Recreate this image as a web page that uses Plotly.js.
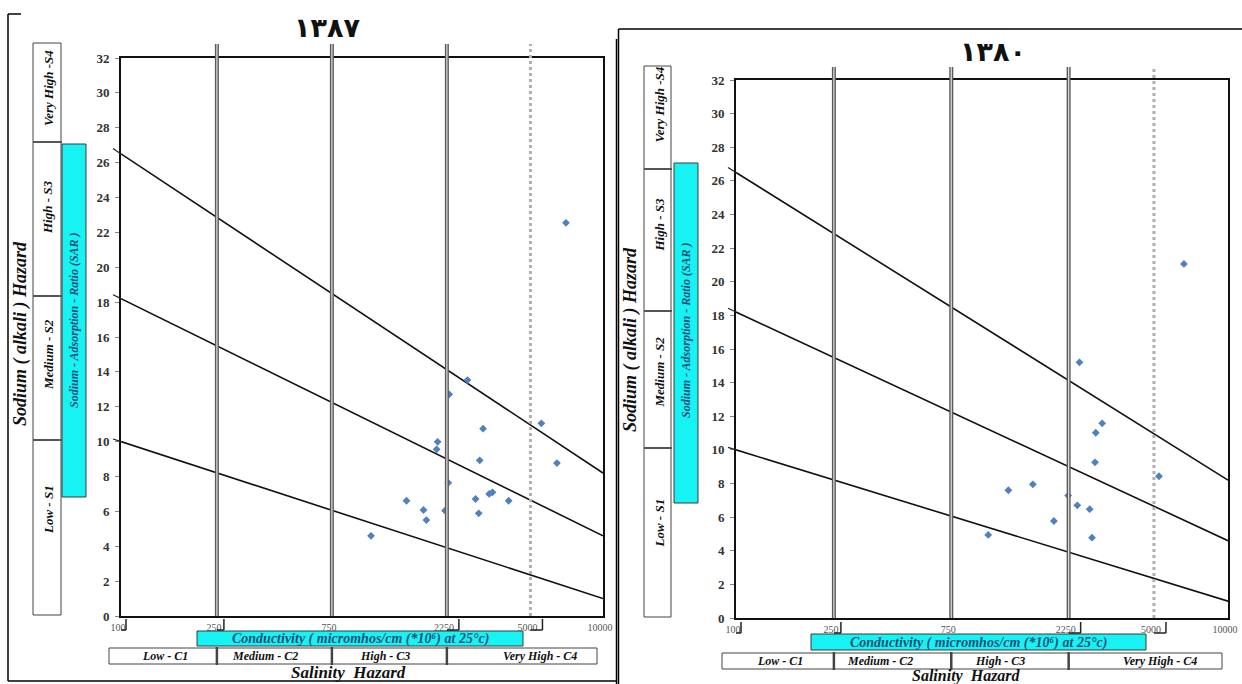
<!DOCTYPE html>
<html><head><meta charset="utf-8">
<script src="https://cdn.plot.ly/plotly-3.0.1.min.js"></script>
<style>html,body{margin:0;padding:0;background:#fff;} #chart{width:1242px;height:684px;}</style>
</head><body><div id="chart"></div>
<script>
// ---------------- data ----------------
const yearTitles = ['۱۳۸۷', '۱۳۸۰'];
const ec1387  = [7020, 2740, 2300, 5550, 3180, 2060, 2040, 3080, 6440, 2280, 3480, 3370, 1530, 2960, 4060, 1800, 2210, 1850, 3050, 1090];
const sar1387 = [22.55, 13.53, 12.71, 11.05, 10.74, 9.99, 9.56, 8.93, 8.77, 7.64, 7.09, 7.0, 6.61, 6.71, 6.61, 6.08, 6.04, 5.5, 5.89, 4.6];
const ec1380  = [6620, 2490, 3080, 2900, 2880, 5240, 1280, 1610, 2240, 2440, 2740, 1960, 1060, 2800];
const sar1380 = [21.06, 15.21, 11.58, 11.02, 9.26, 8.43, 7.60, 7.95, 7.28, 6.70, 6.47, 5.77, 4.94, 4.78];
const boundaryEC   = [100, 10000];
const boundaryS3S4 = [26.5, 8.2];
const boundaryS2S3 = [18.2, 4.6];
const boundaryS1S2 = [10.0, 1.0];
const classEC = [250, 750, 2250, 5000];
const tickEC = [100, 250, 750, 2250, 5000, 10000];
const tickText = ['100', '250', '750', '2250', '5000', '10000'];
const sodiumClasses = ['Very High -S4', 'High - S3', 'Medium - S2', 'Low - S1'];
const salinityClasses = ['Low - C1', 'Medium - C2', 'High - C3', 'Very High - C4'];
const sarAxisLabel = 'Sodium - Adsorption - Ratio (SAR )';
const hazardLabel = 'Sodium ( alkali ) Hazard';
const condLabel = 'Conductivity ( micromhos/cm (*10⁶) at 25°c)';
const salinityLabel = 'Salinity  Hazard';

// ---------------- layout geometry ----------------
const W = 1242, H = 684;
const PX = x => x / W, PY = y => 1 - y / H;
const serif = 'Liberation Serif, Times New Roman, serif';
const cyan = '#17f2f2', tealText = '#1f4f7a';

const panels = [
  {ec: ec1387, sar: sar1387, title: yearTitles[0], titleX: 327, titleY: 27,
   L: 121, R: 603, T: 58, B: 616, lineTop: 44,
   sBox: {x0: 33, x1: 61, ys: [43, 142, 296, 440, 615], labelY: [88, 207, 355, 510]},
   cyanV: {x0: 62, x1: 86, y0: 144, y1: 497, ty: 320}, hazX: 20, hazY: 334,
   cyanH: {x0: 197, x1: 523, y0: 631, y1: 646},
   cRow: {x0: 109, x1: 597, y0: 648, y1: 664, labelX: [165, 265, 385, 540]},
   salX: 348, salY: 672, brY0: 619, brY1: 630},
  {ec: ec1380, sar: sar1380, title: yearTitles[1], titleX: 993, titleY: 52,
   L: 736, R: 1228, T: 80, B: 618, lineTop: 67,
   sBox: {x0: 644, x1: 671, ys: [66, 169, 311, 448, 617], labelY: [105, 225, 372, 523]},
   cyanV: {x0: 674, x1: 698, y0: 163, y1: 503, ty: 330}, hazX: 631, hazY: 340,
   cyanH: {x0: 811, x1: 1146, y0: 634, y1: 650},
   cRow: {x0: 722, x1: 1222, y0: 653, y1: 669, labelX: [780, 880, 1000, 1160]},
   salX: 966, salY: 676, brY0: 622, brY1: 633}
];
// bracket offsets (pixels, relative to tick) for the little framed tick labels
const bracketOff = [[-4, 5], [-6, 7], null, [-12, 12], [-15, 12], [-22, 8]];

const traces = [];
const shapes = [];
const annotations = [];
const layout = {
  width: W, height: H, margin: {l: 0, r: 0, t: 0, b: 0},
  paper_bgcolor: '#fff', plot_bgcolor: '#fff', showlegend: false,
  shapes, annotations
};

function line(x0, y0, x1, y1, color, width) {
  shapes.push({type: 'line', xref: 'paper', yref: 'paper',
    x0: PX(x0), y0: PY(y0), x1: PX(x1), y1: PY(y1), line: {color, width}});
}
function rect(x0, y0, x1, y1, fill, color, width) {
  shapes.push({type: 'rect', xref: 'paper', yref: 'paper', x0: PX(x0), y0: PY(y1), x1: PX(x1), y1: PY(y0),
    fillcolor: fill, line: {color, width}, layer: 'below'});
}
function text(t, x, y, size, opts) {
  annotations.push(Object.assign({text: t, xref: 'paper', yref: 'paper', x: PX(x), y: PY(y),
    xanchor: 'center', yanchor: 'middle', showarrow: false,
    font: {family: serif, size, color: '#111'}}, opts || {}));
}

// outer frames
line(8, 14, 21, 14, '#000', 1.5);
line(8, 14, 8, 681, '#000', 1.5);
line(8, 681, 617, 681, '#000', 1.5);
line(616.5, 39, 616.5, 684, '#000', 1.5);
line(618.5, 29, 1242, 29, '#000', 1.5);
line(618.5, 29, 618.5, 684, '#000', 1.5);

panels.forEach((p, i) => {
  const xa = i === 0 ? 'x' : 'x2', ya = i === 0 ? 'y' : 'y2';
  const xKey = i === 0 ? 'xaxis' : 'xaxis2', yKey = i === 0 ? 'yaxis' : 'yaxis2';
  layout[xKey] = {type: 'log', range: [2, 4], domain: [PX(p.L), PX(p.R)], anchor: ya,
    tickvals: tickEC, ticktext: tickText, ticks: '', showgrid: false, zeroline: false,
    showline: true, linewidth: 2, linecolor: '#111', mirror: true,
    tickfont: {family: serif, size: 10, color: '#555'}, ticklabelshift: -3, ticklabelstandoff: 1,
    fixedrange: true};
  layout[yKey] = {range: [0, 32], domain: [PY(p.B), PY(p.T)], anchor: xa, dtick: 2, tick0: 0,
    ticks: 'outside', ticklen: 4, tickcolor: '#888', showgrid: false, zeroline: false,
    showline: true, linewidth: 2, linecolor: '#111', mirror: true,
    tickfont: {family: serif, size: 13, color: '#333', weight: 'bold'}, ticklabelstandoff: 3,
    fixedrange: true};

  // class boundary vertical lines (drawn through the x scale)
  classEC.forEach(v => {
    if (v === 5000) {
      shapes.push({type: 'line', xref: xa, yref: 'paper', x0: v, x1: v, y0: PY(p.B), y1: PY(p.lineTop),
        line: {color: '#b0b0b0', width: 3, dash: 'dot'}});
    } else {
      shapes.push({type: 'line', xref: xa, yref: 'paper', x0: v, x1: v, y0: PY(p.B), y1: PY(p.lineTop),
        line: {color: '#5a5a5a', width: 4}});
      shapes.push({type: 'line', xref: xa, yref: 'paper', x0: v, x1: v, y0: PY(p.B), y1: PY(p.lineTop),
        line: {color: '#e0e0e0', width: 1.2}});
    }
  });

  // sodium hazard boundaries (+ the short stubs they leave just left of the axis)
  const unit = (p.B - p.T) / 32, plotW = p.R - p.L;
  [boundaryS3S4, boundaryS2S3, boundaryS1S2].forEach(b => {
    traces.push({type: 'scatter', mode: 'lines', x: boundaryEC, y: b, xaxis: xa, yaxis: ya,
      line: {color: '#111', width: 1.6}, hoverinfo: 'skip'});
    const slope = (b[0] - b[1]) * unit / plotW;
    const yl = p.B - b[0] * unit;
    line(p.L - 8, yl - 8 * slope, p.L, yl, '#222', 1.2);
  });

  // samples
  traces.push({type: 'scatter', mode: 'markers', x: p.ec, y: p.sar, xaxis: xa, yaxis: ya,
    marker: {symbol: 'diamond', size: 6, color: '#4f81bd'}, name: p.title});

  // tick-label brackets
  tickEC.forEach((v, k) => {
    const o = bracketOff[k];
    if (!o) return;
    shapes.push({type: 'line', xref: xa, xsizemode: 'pixel', xanchor: v, x0: o[1], x1: o[1],
      yref: 'paper', y0: PY(p.brY0), y1: PY(p.brY1), line: {color: '#222', width: 1.5}});
    shapes.push({type: 'line', xref: xa, xsizemode: 'pixel', xanchor: v, x0: o[0], x1: o[1],
      yref: 'paper', y0: PY(p.brY1), y1: PY(p.brY1), line: {color: '#222', width: 1.5}});
  });

  // title
  text(p.title, p.titleX, p.titleY, 27, {font: {family: 'DejaVu Sans, Noto Sans, sans-serif', size: 27, color: '#111', weight: 'bold'}});

  // sodium hazard class boxes
  const sb = p.sBox;
  rect(sb.x0, sb.ys[0], sb.x1, sb.ys[4], '#fff', '#444', 1);
  for (let k = 1; k < 4; k++) line(sb.x0, sb.ys[k], sb.x1 + 1, sb.ys[k], '#555', 2);
  sodiumClasses.forEach((c, k) => text(c, (sb.x0 + sb.x1) / 2 + 1, sb.labelY[k], 13,
    {textangle: -90, font: {family: serif, size: 13, color: '#111', style: 'italic', weight: 'bold'}}));

  // SAR cyan bar
  const cv = p.cyanV;
  rect(cv.x0, cv.y0, cv.x1, cv.y1, cyan, '#3a3a3a', 1);
  text(sarAxisLabel, (cv.x0 + cv.x1) / 2, cv.ty, 12,
    {textangle: -90, font: {family: serif, size: 12, color: tealText, style: 'italic', weight: 'bold'}});
  text(hazardLabel, p.hazX, p.hazY, 18,
    {textangle: -90, font: {family: serif, size: 18, color: '#111', style: 'italic', weight: 'bold'}});

  // conductivity cyan bar
  const ch = p.cyanH;
  rect(ch.x0, ch.y0, ch.x1, ch.y1, cyan, '#3a3a3a', 1);
  text(condLabel, (ch.x0 + ch.x1) / 2, (ch.y0 + ch.y1) / 2 + 0.5, 14,
    {font: {family: serif, size: 14, color: tealText, style: 'italic', weight: 'bold'}});

  // salinity class row
  const cr = p.cRow;
  rect(cr.x0, cr.y0, cr.x1, cr.y1, '#fff', '#444', 1);
  classEC.slice(0, 3).forEach(v => {
    shapes.push({type: 'line', xref: xa, yref: 'paper', x0: v, x1: v, y0: PY(cr.y1 + 1), y1: PY(cr.y0 - 1),
      line: {color: '#444', width: 2.5}});
  });
  salinityClasses.forEach((c, k) => text(c, cr.labelX[k], (cr.y0 + cr.y1) / 2, 12,
    {font: {family: serif, size: 12, color: '#111', style: 'italic', weight: 'bold'}}));
  text(salinityLabel, p.salX, p.salY, 16,
    {font: {family: serif, size: i === 0 ? 17 : 16, color: '#111', style: 'italic', weight: 'bold'}});
});

Plotly.newPlot('chart', traces, layout, {staticPlot: true, displayModeBar: false});
</script>
</body></html>
